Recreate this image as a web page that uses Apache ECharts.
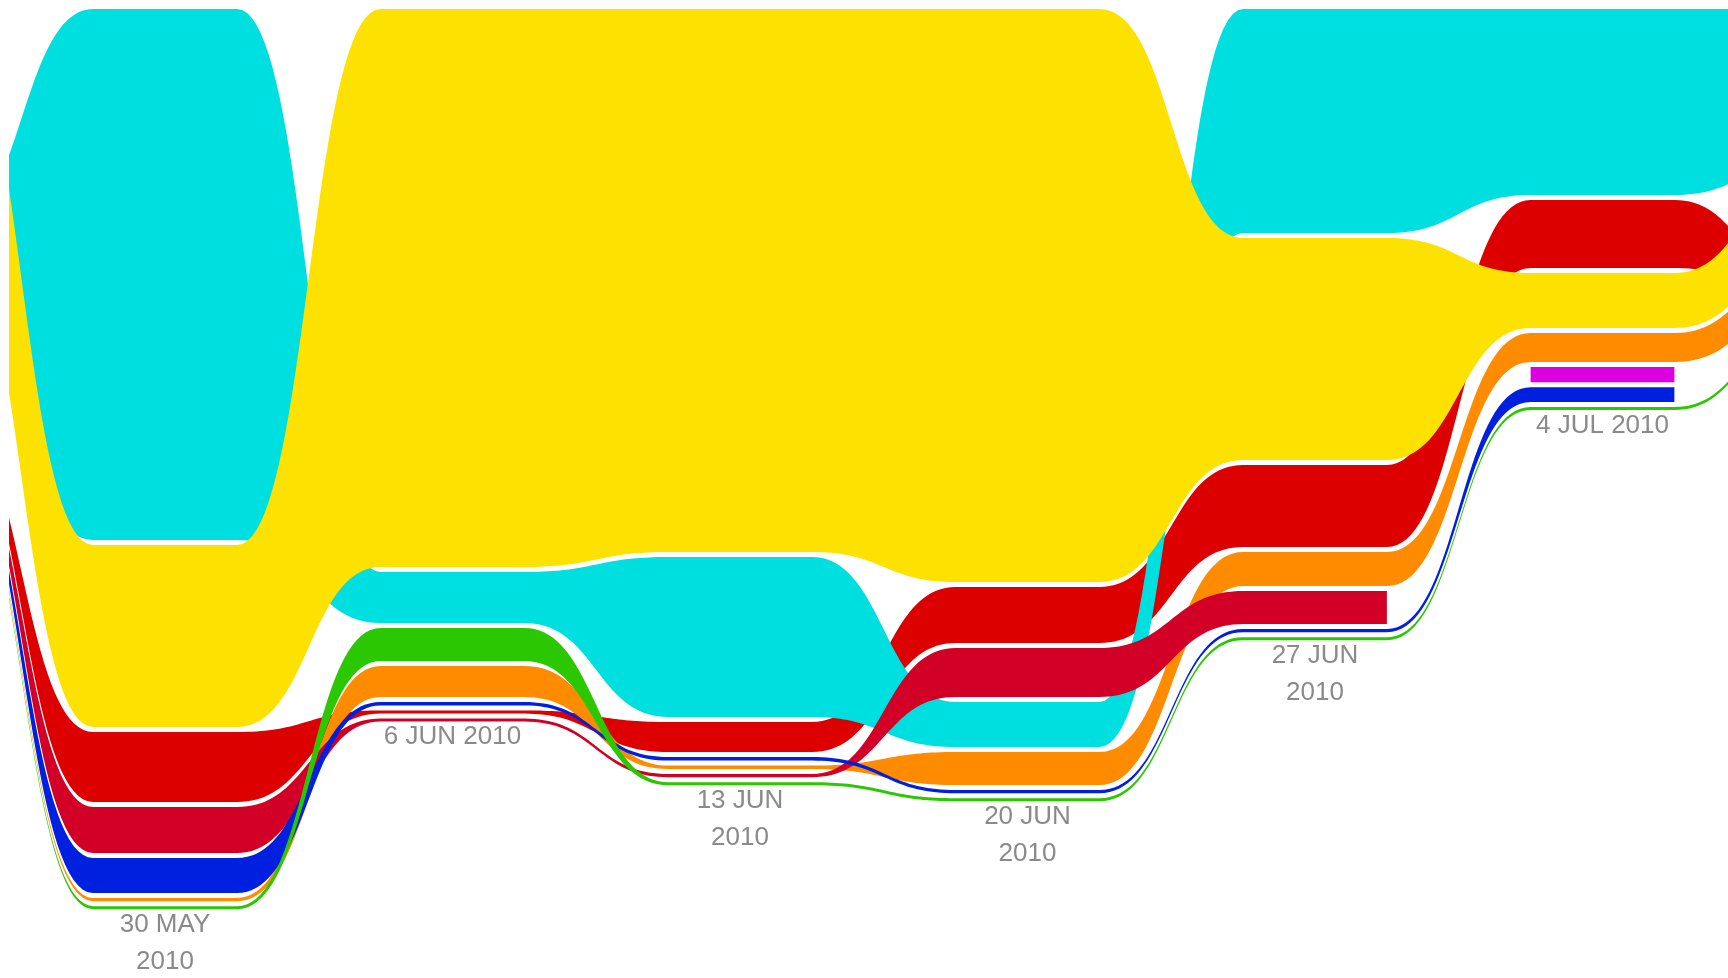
<!DOCTYPE html>
<html>
<head>
<meta charset="utf-8">
<script src="https://cdn.jsdelivr.net/npm/echarts@6/dist/echarts.min.js"></script>
<style>
html,body{margin:0;padding:0;background:#ffffff;}
#chart{width:1728px;height:978px;}
</style>
</head>
<body>
<div id="chart"></div>
<script>
// ---- DATA (weekly values, stacked by rank each week) ----
// week index: -1 = 23 May (off-frame), 0 = 30 May ... 5 = 4 Jul, 6 = 11 Jul (off-frame)
const weekIndex = [-1, 0, 1, 2, 3, 4, 5, 6];
const tickLabels = ['', '30 MAY\n2010', '6 JUN 2010', '13 JUN\n2010', '20 JUN\n2010', '27 JUN\n2010', '4 JUL 2010', ''];

const cyan    = [71, 531, 51, 160, 45, 224, 186, 145];
const yellow  = [215, 182, 558, 543, 573, 222, 55, 88];
const red     = [3.0, 70, 3.2, 30, 56, 82, 68, 6];
const crimson = [2.8, 46, 3.0, 3.2, 49, 33, null, null];
const blue    = [2.6, 35, 3.4, 3.6, 3.2, 3.2, 14.8, null];
const orange  = [2.4, 3.2, 31, 3.4, 33, 34, 29, 42];
const green   = [2.2, 3.0, 33, 3.0, 3.0, 3.0, 3.0, 3.0];
const magenta = [null, null, null, null, null, null, 15.2, null];
const otherA  = [50, null, null, null, null, null, null, null];
const otherB  = [45, null, null, null, null, null, null, null];

// ---- styling ----
const values = {cyan, yellow, red, crimson, blue, orange, green, magenta, otherA, otherB};
const colors = {
  cyan: '#00dfe0', yellow: '#fde100', red: '#dc0000', crimson: '#d20026',
  blue: '#0020df', orange: '#ff8b00', green: '#2bc700', magenta: '#dc00e0',
  otherA: '#cccccc', otherB: '#cccccc'
};
// bottom -> top painting order
const drawOrder = ['otherA', 'otherB', 'red', 'cyan', 'orange', 'crimson', 'blue', 'green', 'magenta', 'yellow'];

const GAP = 5;        // gap between stacked ribbons (value units)
const HALF = 0.25;    // half width of the flat part of a week (x units)
const X_MIN = -0.5426, X_MAX = 5.4365;
const Y_MAX = 969;
const SAMPLES = 40;

// rank-stack layout per week
const layout = {};
Object.keys(values).forEach(n => layout[n] = []);
const stackBottom = [];
weekIndex.forEach((w, k) => {
  const present = Object.keys(values).filter(n => values[n][k] != null)
    .sort((a, b) => values[b][k] - values[a][k]);
  let y = 0;
  present.forEach(n => {
    layout[n][k] = [y, y + values[n][k]];
    y += values[n][k] + GAP;
  });
  stackBottom[k] = y - GAP;
});

function sampleBezier(p0, p1, out) {
  const xm = (p0[0] + p1[0]) / 2;
  for (let i = 1; i < SAMPLES; i++) {
    const t = i / SAMPLES, u = 1 - t;
    const a = u * u * u, b = 3 * u * u * t, c = 3 * u * t * t, d = t * t * t;
    out.push([a * p0[0] + (b + c) * xm + d * p1[0], (a + b) * p0[1] + (c + d) * p1[1]]);
  }
}

function renderRibbon(params, api) {
  const name = drawOrder[params.dataIndex];
  const lay = layout[name];
  const children = [];
  let k = 0;
  while (k < weekIndex.length) {
    if (!lay[k]) { k++; continue; }
    const start = k;
    while (k + 1 < weekIndex.length && lay[k + 1]) k++;
    const end = k;
    const top = [], bot = [];
    for (let j = start; j <= end; j++) {
      const w = weekIndex[j];
      const tl = api.coord([w - HALF, lay[j][0]]);
      const tr = api.coord([w + HALF, lay[j][0]]);
      const bl = api.coord([w - HALF, lay[j][1]]);
      const br = api.coord([w + HALF, lay[j][1]]);
      top.push(tl, tr);
      bot.push(bl, br);
      if (j < end) {
        const nw = weekIndex[j + 1];
        const nt = api.coord([nw - HALF, lay[j + 1][0]]);
        const nb = api.coord([nw - HALF, lay[j + 1][1]]);
        sampleBezier(tr, nt, top);
        sampleBezier(br, nb, bot);
      }
    }
    const pts = top.concat(bot.reverse());
    children.push({type: 'polygon', shape: {points: pts}, style: {fill: colors[name]}});
    k++;
  }
  return {type: 'group', children: children};
}

function renderLabel(params, api) {
  const k = params.dataIndex;
  const text = tickLabels[k];
  if (!text) return null;
  const p = api.coord([weekIndex[k], stackBottom[k]]);
  return {
    type: 'text',
    x: p[0],
    y: p[1] - 3,
    style: {
      text: text,
      fill: '#8a8a8a',
      fontSize: 26,
      fontFamily: '"Liberation Sans", Arial, Helvetica, sans-serif',
      align: 'center',
      verticalAlign: 'top',
      lineHeight: 37
    }
  };
}

const chart = echarts.init(document.getElementById('chart'), null, {renderer: 'canvas'});
chart.setOption({
  animation: false,
  backgroundColor: '#ffffff',
  grid: {left: 9, right: 0, top: 9, bottom: 0, containLabel: false},
  xAxis: {type: 'value', min: X_MIN, max: X_MAX, show: false},
  yAxis: {type: 'value', min: 0, max: Y_MAX, inverse: true, show: false},
  series: [
    {
      type: 'custom',
      clip: true,
      renderItem: renderRibbon,
      data: drawOrder.map((n, i) => [i, 0]),
      silent: true
    },
    {
      type: 'custom',
      clip: false,
      renderItem: renderLabel,
      data: weekIndex.map((w, k) => [w, stackBottom[k]]),
      silent: true,
      z: 5
    }
  ]
});
</script>
</body>
</html>
